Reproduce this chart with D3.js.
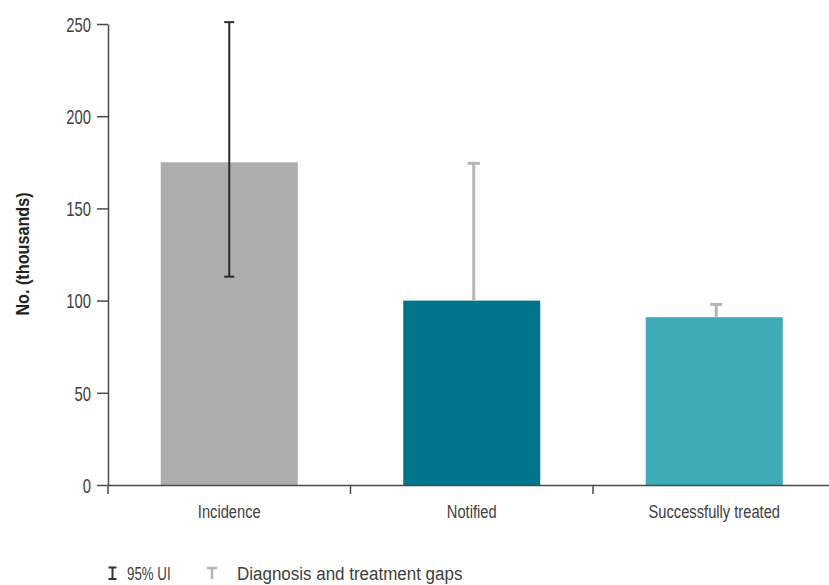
<!DOCTYPE html>
<html><head><meta charset="utf-8">
<script src="https://cdn.jsdelivr.net/npm/d3@7"></script>
<style>
body{margin:0;background:#fff;}
svg{display:block;font-family:"Liberation Sans",Arial,sans-serif;}
</style></head>
<body><svg id="c" width="829" height="585"></svg>
<script>
const categories = ["Incidence", "Notified", "Successfully treated"];
const values = [175, 100, 91];
const uiLow = [113, null, null];
const uiHigh = [251, null, null];
const gapTop = [null, 175, 98.5];
const barColors = ["#adadad", "#01758c", "#3eabb8"];
const yTicks = [0, 50, 100, 150, 200, 250];
const legendLabels = ["95% UI", "Diagnosis and treatment gaps"];

const svg = d3.select("#c");
const x = d3.scaleBand().domain(categories).range([108, 835.5]).paddingInner(0.435).paddingOuter(0.2175);
const y = d3.scaleLinear().domain([0, 250]).range([485, 24]);
const textCol = "#404040", axisCol = "#4a4a4a";

// horizontally condense a text element while keeping its anchor point
function condense(sel, k) {
  sel.each(function() {
    const t = d3.select(this);
    const x0 = +(t.attr("x") || 0);
    t.attr("x", x0 / k).attr("transform", `scale(${k},1)`);
  });
}

// bars
svg.selectAll("rect.bar").data(categories).join("rect").attr("class", "bar")
  .attr("x", d => x(d)).attr("width", x.bandwidth())
  .attr("y", (d,i) => y(values[i])).attr("height", (d,i) => y(0) - y(values[i]))
  .attr("fill", (d,i) => barColors[i]);

// gap bars
const gapG = svg.append("g").attr("stroke", "#b5b5b5").attr("stroke-width", 3);
categories.forEach((c,i) => {
  if (gapTop[i] == null) return;
  const cx = x(c) + x.bandwidth()/2 + 2;
  gapG.append("line").attr("x1", cx).attr("x2", cx).attr("y1", y(values[i])).attr("y2", y(gapTop[i]));
  gapG.append("line").attr("x1", cx-6).attr("x2", cx+6).attr("y1", y(gapTop[i])+1).attr("y2", y(gapTop[i])+1);
});
// UI error bars
categories.forEach((c,i) => {
  if (uiLow[i] == null) return;
  const cx = x(c) + x.bandwidth()/2;
  const g = svg.append("g").attr("stroke", "#2b2b2b").attr("stroke-width", 2);
  g.append("line").attr("x1", cx).attr("x2", cx).attr("y1", y(uiLow[i])).attr("y2", y(uiHigh[i]));
  g.append("line").attr("x1", cx-5).attr("x2", cx+5).attr("y1", y(uiLow[i])).attr("y2", y(uiLow[i]));
  g.append("line").attr("x1", cx-5).attr("x2", cx+5).attr("y1", y(uiHigh[i])).attr("y2", y(uiHigh[i]));
});

// y axis
const ya = svg.append("g").attr("transform", "translate(108,0)")
  .call(d3.axisLeft(y).tickValues(yTicks).tickSize(11).tickPadding(6).tickSizeOuter(0));
ya.select(".domain").attr("stroke", axisCol).attr("stroke-width", 1.5);
ya.selectAll(".tick line").attr("stroke", axisCol).attr("stroke-width", 1.5);
ya.selectAll(".tick text").attr("fill", textCol).attr("font-size", 20).attr("font-family", null)
  .attr("dy", "0.36em").call(condense, 0.74);

// x axis
const xa = svg.append("g").attr("transform", "translate(0,485)")
  .call(d3.axisBottom(x).tickSize(0).tickPadding(21).tickSizeOuter(0));
xa.select(".domain").attr("stroke", axisCol).attr("stroke-width", 1.5);
xa.selectAll(".tick text").attr("fill", textCol).attr("font-size", 17.5).attr("font-family", null)
  .call(condense, 0.84);
// category boundary ticks
const bounds = categories.map(c => x(c) - x.step()*x.paddingInner()/2);
svg.append("g").selectAll("line").data(bounds).join("line")
  .attr("x1", d => d).attr("x2", d => d).attr("y1", 485).attr("y2", 494)
  .attr("stroke", axisCol).attr("stroke-width", 1.5);

// y title
svg.append("text").attr("transform", "translate(29,254) rotate(-90) scale(0.9,1)")
  .attr("text-anchor", "middle").attr("font-weight", "bold").attr("font-size", 18)
  .attr("fill", "#222").text("No. (thousands)");

// legend
const lg = svg.append("g");
const ly = 580;
const ig = lg.append("g").attr("stroke", "#333").attr("stroke-width", 2);
ig.append("line").attr("x1", 112.5).attr("x2", 112.5).attr("y1", ly-12.5).attr("y2", ly-1);
ig.append("line").attr("x1", 108.5).attr("x2", 116.5).attr("y1", ly-12.5).attr("y2", ly-12.5);
ig.append("line").attr("x1", 108.5).attr("x2", 116.5).attr("y1", ly-1).attr("y2", ly-1);
lg.append("text").attr("x", 127).attr("y", ly).attr("font-size", 18).attr("fill", textCol)
  .text(legendLabels[0]).call(condense, 0.74);
const tg = lg.append("g").attr("stroke", "#b5b5b5").attr("stroke-width", 2.5);
tg.append("line").attr("x1", 212).attr("x2", 212).attr("y1", ly-12.5).attr("y2", ly-1);
tg.append("line").attr("x1", 207).attr("x2", 217).attr("y1", ly-12).attr("y2", ly-12);
lg.append("text").attr("x", 237).attr("y", ly).attr("font-size", 18).attr("fill", textCol)
  .text(legendLabels[1]).call(condense, 0.943);
</script></body></html>
